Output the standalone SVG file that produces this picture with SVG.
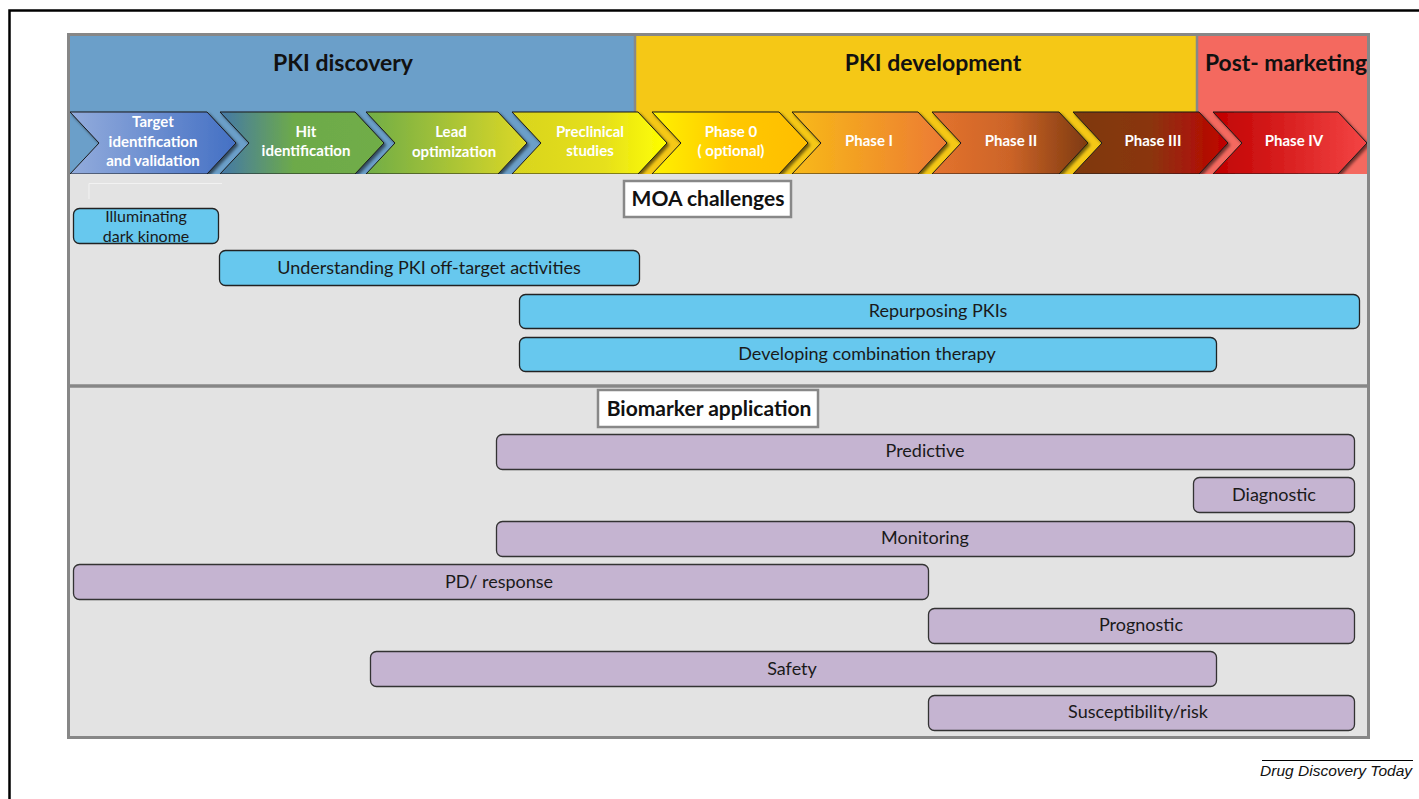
<svg xmlns="http://www.w3.org/2000/svg" width="1419" height="799" viewBox="0 0 1419 799">
  <style>
    .hdr { font-family: Lato, "Liberation Sans", sans-serif; font-weight: bold; font-size: 23px; fill: #111; }
    .chev { stroke: #1a1a1a; stroke-width: 1; filter: url(#shadow); }
    .ct { font-family: Lato, "Liberation Sans", sans-serif; font-weight: bold; font-size: 15px; fill: #fff; text-anchor: middle; }
    .moa { fill: #67C8EE; stroke: #222; stroke-width: 1.3; }
    .bio { fill: #C5B4D1; stroke: #333; stroke-width: 1.3; }
    .bt { font-family: Lato, "Liberation Sans", sans-serif; font-size: 18px; fill: #1a1a1a; text-anchor: middle; }
    .bt2 { font-family: Lato, "Liberation Sans", sans-serif; font-size: 16px; fill: #1a1a1a; text-anchor: middle; }
    .lbl { fill: #fff; stroke: #888; stroke-width: 2.5; }
    .lt { font-family: Lato, "Liberation Sans", sans-serif; font-weight: bold; font-size: 21px; fill: #111; text-anchor: middle; }
  </style>
  <defs>
    <filter id="shadow" x="-10%" y="-20%" width="130%" height="150%">
      <feDropShadow dx="2" dy="2" stdDeviation="1.6" flood-color="#000" flood-opacity="0.55"/>
    </filter>
    <clipPath id="band"><rect x="70" y="36" width="1297" height="138"/></clipPath>
    <linearGradient id="g1" x1="0" x2="1"><stop offset="0" stop-color="#93ACDC"/><stop offset="1" stop-color="#4470C4"/></linearGradient>
    <linearGradient id="g2" x1="0" x2="1"><stop offset="0" stop-color="#4478A8"/><stop offset="0.45" stop-color="#6DAA4A"/><stop offset="1" stop-color="#70AD47"/></linearGradient>
    <linearGradient id="g3" x1="0" x2="1"><stop offset="0" stop-color="#70AD47"/><stop offset="1" stop-color="#DCD826"/></linearGradient>
    <linearGradient id="g4" x1="0" x2="1"><stop offset="0" stop-color="#D8D420"/><stop offset="0.6" stop-color="#E6E01C"/><stop offset="1" stop-color="#FFFF00"/></linearGradient>
    <linearGradient id="g5" x1="0" x2="1"><stop offset="0" stop-color="#FFF200"/><stop offset="0.5" stop-color="#FFC800"/><stop offset="1" stop-color="#FFBE00"/></linearGradient>
    <linearGradient id="g6" x1="0" x2="1"><stop offset="0" stop-color="#F8BA18"/><stop offset="1" stop-color="#EC7A34"/></linearGradient>
    <linearGradient id="g7" x1="0" x2="1"><stop offset="0" stop-color="#E4732E"/><stop offset="0.5" stop-color="#CC6428"/><stop offset="1" stop-color="#7E3A10"/></linearGradient>
    <linearGradient id="g8" x1="0" x2="1"><stop offset="0" stop-color="#7E3A10"/><stop offset="0.5" stop-color="#8A3510"/><stop offset="1" stop-color="#C00000"/></linearGradient>
    <linearGradient id="g9" x1="0" x2="1"><stop offset="0" stop-color="#C00000"/><stop offset="1" stop-color="#F44444"/></linearGradient>
  </defs>

  <!-- page frame -->
  <rect x="0" y="0" width="1419" height="799" fill="#fff"/>
  <path d="M9.5 799 V10.5 H1419" fill="none" stroke="#000" stroke-width="2.5"/>

  <!-- main panel -->
  <rect x="68.5" y="34.5" width="1300" height="703" fill="#E3E3E3"/>

  <!-- stage headers -->
  <g id="stage-discovery">
    <rect x="70" y="36" width="565" height="138" fill="#6B9FC9"/>
    <text class="hdr" x="343" y="71" text-anchor="middle">PKI discovery</text>
  </g>
  <g id="stage-development">
    <rect x="635" y="36" width="562" height="138" fill="#F5C816"/>
    <text class="hdr" x="933" y="71" text-anchor="middle">PKI development</text>
  </g>
  <g id="stage-postmarketing">
    <rect x="1197" y="36" width="170" height="138" fill="#F4695F"/>
    <text class="hdr" x="1205" y="71" textLength="162" lengthAdjust="spacingAndGlyphs">Post- marketing</text>
  </g>
  <path d="M635 36 V112 M1197 36 V112" stroke="#888" stroke-width="2.5"/>

  <!-- phase chevrons -->
  <g clip-path="url(#band)">
    <g id="phase-target">
      <polygon class="chev" fill="url(#g1)" points="70,112 207,112 236,143 207,174 70,174 99,143"/>
      <text class="ct" x="153" y="127">Target</text>
      <text class="ct" x="153" y="147">identification</text>
      <text class="ct" x="153" y="166">and validation</text>
    </g>
    <g id="phase-hit">
      <polygon class="chev" fill="url(#g2)" points="220,112 355,112 384,143 355,174 220,174 249,143"/>
      <text class="ct" x="306" y="137">Hit</text>
      <text class="ct" x="306" y="156">identification</text>
    </g>
    <g id="phase-lead">
      <polygon class="chev" fill="url(#g3)" points="366,112 498,112 527,143 498,174 366,174 395,143"/>
      <text class="ct" x="451" y="137">Lead</text>
      <text class="ct" x="454" y="157">optimization</text>
    </g>
    <g id="phase-preclinical">
      <polygon class="chev" fill="url(#g4)" points="512,112 638,112 667,143 638,174 512,174 541,143"/>
      <text class="ct" x="590" y="137">Preclinical</text>
      <text class="ct" x="590" y="156">studies</text>
    </g>
    <g id="phase-0">
      <polygon class="chev" fill="url(#g5)" points="652,112 779,112 808,143 779,174 652,174 681,143"/>
      <text class="ct" x="731" y="137">Phase 0</text>
      <text class="ct" x="731" y="156">( optional)</text>
    </g>
    <g id="phase-1">
      <polygon class="chev" fill="url(#g6)" points="792,112 918,112 947,143 918,174 792,174 821,143"/>
      <text class="ct" x="869" y="146">Phase I</text>
    </g>
    <g id="phase-2">
      <polygon class="chev" fill="url(#g7)" points="932,112 1059,112 1088,143 1059,174 932,174 961,143"/>
      <text class="ct" x="1011" y="146">Phase II</text>
    </g>
    <g id="phase-3">
      <polygon class="chev" fill="url(#g8)" points="1073,112 1199,112 1228,143 1199,174 1073,174 1102,143"/>
      <text class="ct" x="1153" y="146">Phase III</text>
    </g>
    <g id="phase-4">
      <polygon class="chev" fill="url(#g9)" points="1213,112 1338,112 1367,143 1338,174 1213,174 1242,143"/>
      <text class="ct" x="1294" y="146">Phase IV</text>
    </g>
  </g>

  <!-- faint guide left under the first chevron -->
  <path d="M89 199 V183.5 H222" fill="none" stroke="#F2F2F2" stroke-width="1"/>

  <!-- section divider and panel border -->
  <line x1="70" y1="386" x2="1367" y2="386" stroke="#878787" stroke-width="3.5"/>
  <rect x="68.5" y="34.5" width="1300" height="703" fill="none" stroke="#878787" stroke-width="3"/>

  <!-- MOA challenges -->
  <g id="moa-label">
    <rect class="lbl" x="624" y="181" width="167" height="36"/>
    <text class="lt" x="708" y="206">MOA challenges</text>
  </g>
  <g id="moa-dark-kinome">
    <rect class="moa" x="73.5" y="208.5" width="145" height="35" rx="6"/>
    <text class="bt2" x="146" y="222">Illuminating</text>
    <text class="bt2" x="146" y="241.5">dark kinome</text>
  </g>
  <g id="moa-off-target">
    <rect class="moa" x="219.5" y="250.5" width="420" height="35" rx="6"/>
    <text class="bt" x="429" y="274">Understanding PKI off-target activities</text>
  </g>
  <g id="moa-repurposing">
    <rect class="moa" x="519.5" y="294.5" width="840" height="34" rx="6"/>
    <text class="bt" x="938" y="317">Repurposing PKIs</text>
  </g>
  <g id="moa-combination">
    <rect class="moa" x="519.5" y="337.5" width="697" height="34" rx="6"/>
    <text class="bt" x="867" y="360">Developing combination therapy</text>
  </g>

  <!-- biomarker application -->
  <g id="bio-label">
    <rect class="lbl" x="598" y="390" width="220" height="37"/>
    <text class="lt" x="709" y="416">Biomarker application</text>
  </g>
  <g id="bio-predictive">
    <rect class="bio" x="496.5" y="434.5" width="858" height="35" rx="6"/>
    <text class="bt" x="925" y="457">Predictive</text>
  </g>
  <g id="bio-diagnostic">
    <rect class="bio" x="1193.5" y="477.5" width="161" height="35" rx="6"/>
    <text class="bt" x="1274" y="501">Diagnostic</text>
  </g>
  <g id="bio-monitoring">
    <rect class="bio" x="496.5" y="521.5" width="858" height="35" rx="6"/>
    <text class="bt" x="925" y="544">Monitoring</text>
  </g>
  <g id="bio-pd-response">
    <rect class="bio" x="73.5" y="564.5" width="855" height="35" rx="6"/>
    <text class="bt" x="499" y="588">PD/ response</text>
  </g>
  <g id="bio-prognostic">
    <rect class="bio" x="928.5" y="608.5" width="426" height="35" rx="6"/>
    <text class="bt" x="1141" y="631">Prognostic</text>
  </g>
  <g id="bio-safety">
    <rect class="bio" x="370.5" y="651.5" width="846" height="35" rx="6"/>
    <text class="bt" x="792" y="675">Safety</text>
  </g>
  <g id="bio-susceptibility">
    <rect class="bio" x="928.5" y="695.5" width="426" height="35" rx="6"/>
    <text class="bt" x="1138" y="718">Susceptibility/risk</text>
  </g>

  <!-- journal credit -->
  <line x1="1262" y1="760.5" x2="1413" y2="760.5" stroke="#000" stroke-width="1"/>
  <text x="1412" y="776" text-anchor="end" font-family="Liberation Sans, Arial, sans-serif" font-style="italic" font-size="15.5px" fill="#111">Drug Discovery Today</text>
</svg>
